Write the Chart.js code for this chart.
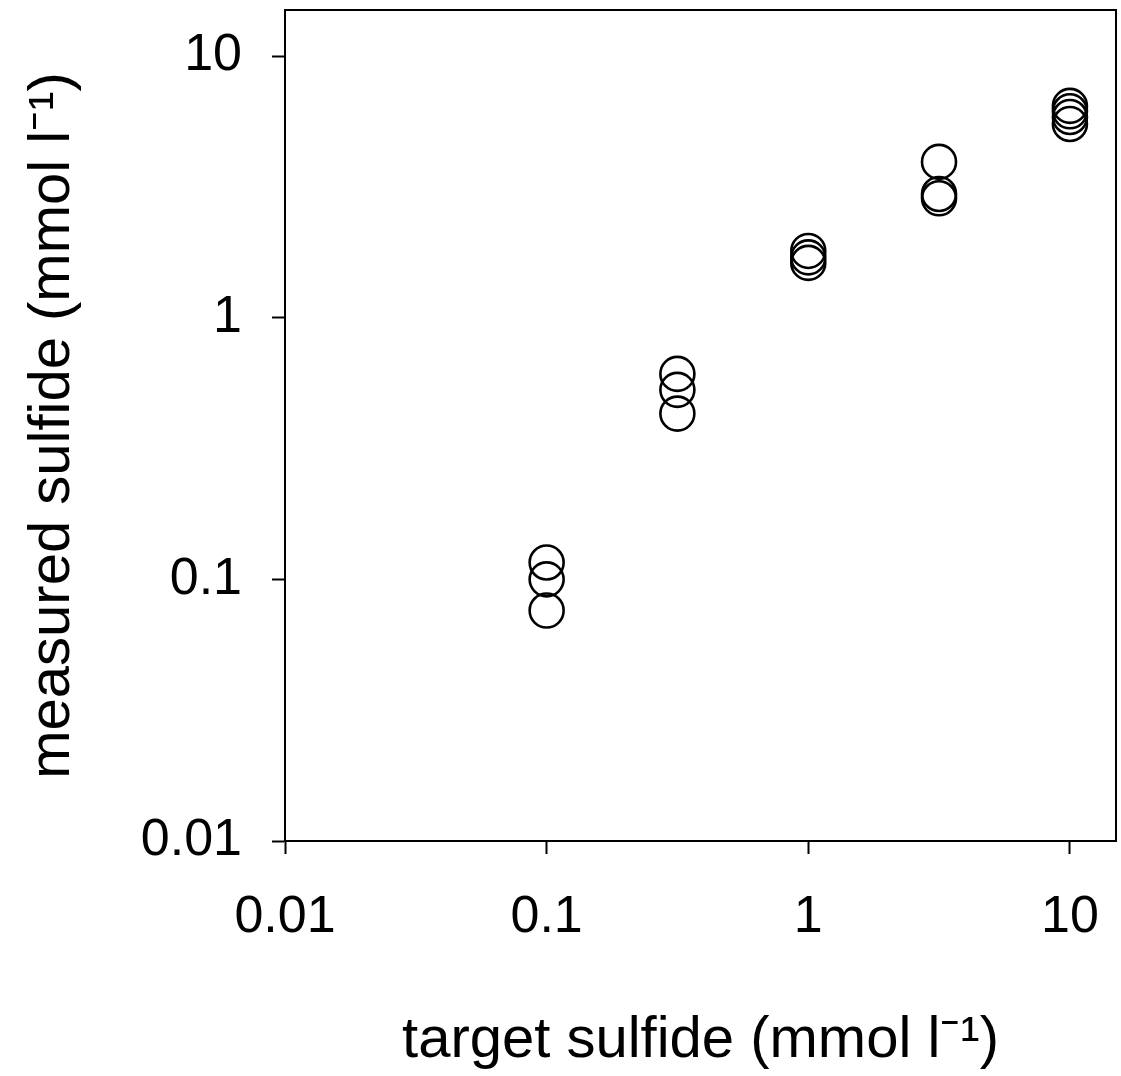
<!DOCTYPE html>
<html>
<head>
<meta charset="utf-8">
<script src="https://cdn.jsdelivr.net/npm/chart.js@4/dist/chart.umd.min.js"></script>
<style>
  html, body { margin: 0; padding: 0; background: #fff; }
  #wrap { width: 1121px; height: 1076px; position: relative; }
</style>
</head>
<body>
<div id="wrap"><canvas id="c"></canvas></div>
<script>
// target sulfide (mmol l-1)
const targetSulfide = [0.1, 0.1, 0.1, 0.316, 0.316, 0.316, 1, 1, 1, 3.16, 3.16, 3.16, 10, 10, 10, 10];
// measured sulfide (mmol l-1)
const measuredSulfide = [0.116, 0.1, 0.076, 0.61, 0.53, 0.43, 1.8, 1.7, 1.62, 3.94, 2.97, 2.86, 6.45, 6.15, 5.85, 5.5];
const xTickValues = [0.01, 0.1, 1, 10];
const yTickValues = [0.01, 0.1, 1, 10];
const xTitle = 'target sulfide (mmol l\u207B\u00B9)';
const yTitle = 'measured sulfide (mmol l\u207B\u00B9)';

const points = targetSulfide.map((x, i) => ({ x: x, y: measuredSulfide[i] }));
const FONT = "'Liberation Sans', Arial, sans-serif";

// Do not let marker size enlarge the layout padding
try {
  const Scatter = Chart.registry.getController('scatter');
  Scatter.prototype.getMaxOverflow = function () { return 0; };
} catch (e) {}

const framePlugin = {
  id: 'frame',
  afterDatasetsDraw(chart) {
    const a = chart.chartArea, ctx = chart.ctx;
    ctx.save();
    ctx.strokeStyle = '#000';
    ctx.lineWidth = 2;
    ctx.beginPath();
    ctx.moveTo(a.left, a.top);
    ctx.lineTo(a.right, a.top);
    ctx.lineTo(a.right, a.bottom);
    ctx.stroke();
    ctx.restore();
  }
};

new Chart(document.getElementById('c'), {
  type: 'scatter',
  data: {
    datasets: [{
      data: points,
      pointStyle: 'circle',
      pointRadius: 17,
      pointBorderWidth: 2.6,
      borderWidth: 2.6,
      pointBorderColor: '#000',
      borderColor: '#000',
      pointBackgroundColor: 'rgba(0,0,0,0)',
      backgroundColor: 'rgba(0,0,0,0)',
      showLine: false,
      clip: false
    }]
  },
  options: {
    responsive: true,
    maintainAspectRatio: false,
    animation: false,
    events: [],
    layout: { padding: { left: 0, right: 5, top: 10, bottom: 0 } },
    plugins: { legend: { display: false }, tooltip: { enabled: false } },
    scales: {
      x: {
        type: 'logarithmic',
        min: 0.01,
        max: 15,
        afterBuildTicks: s => { s.ticks = xTickValues.map(v => ({ value: v, major: true })); },
        afterFit: s => { s.height = 1076 - 841; s.paddingLeft = 0; s.paddingRight = 0; },
        ticks: {
          autoSkip: false, maxRotation: 0, minRotation: 0,
          color: '#000', padding: 32,
          font: { family: FONT, size: 52 },
          callback: v => String(v)
        },
        grid: { drawOnChartArea: false, drawTicks: true, tickLength: 13, tickWidth: 2, tickColor: '#000' },
        border: { display: true, color: '#000', width: 2 },
        title: {
          display: true, text: xTitle, color: '#000',
          font: { family: FONT, size: 58 },
          padding: { top: 20, bottom: 0 }
        }
      },
      y: {
        type: 'logarithmic',
        min: 0.01,
        max: 15,
        afterBuildTicks: s => { s.ticks = yTickValues.map(v => ({ value: v, major: true })); },
        afterFit: s => { s.width = 285; s.paddingTop = 0; s.paddingBottom = 0; },
        ticks: {
          autoSkip: false,
          color: '#000', padding: 30,
          font: { family: FONT, size: 52 },
          callback: v => String(v)
        },
        grid: { drawOnChartArea: false, drawTicks: true, tickLength: 13, tickWidth: 2, tickColor: '#000' },
        border: { display: true, color: '#000', width: 2 },
        title: {
          display: true, text: yTitle, color: '#000',
          font: { family: FONT, size: 58 },
          padding: { top: 18, bottom: 0 }
        }
      }
    }
  },
  plugins: [framePlugin]
});
</script>
</body>
</html>
